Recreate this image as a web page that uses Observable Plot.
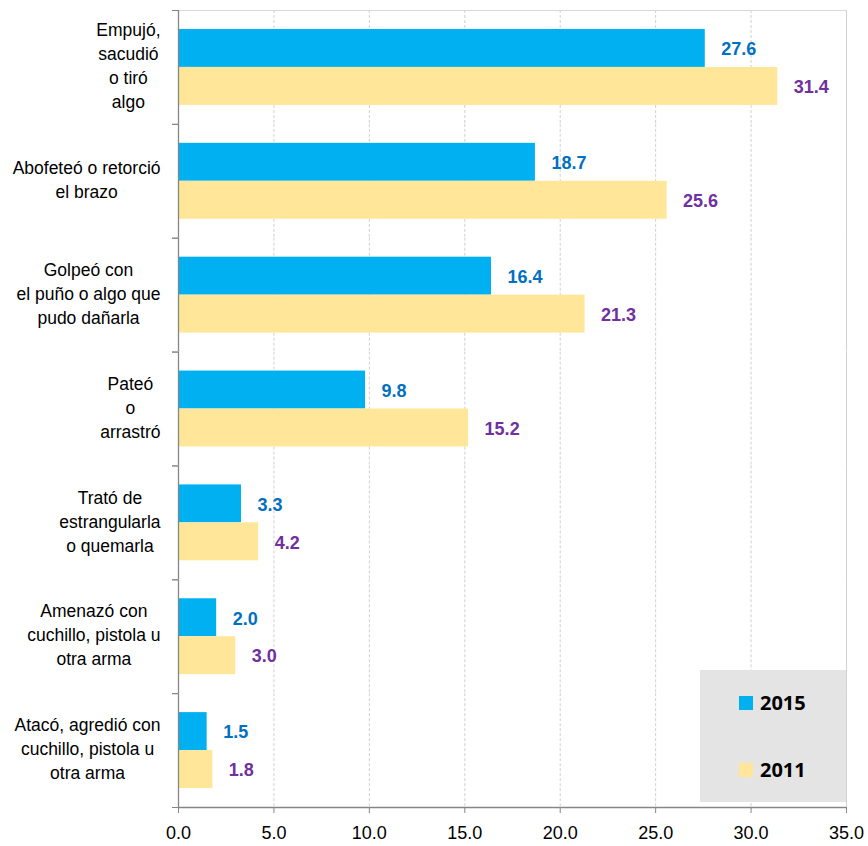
<!DOCTYPE html>
<html>
<head>
<meta charset="utf-8">
<script src="https://cdn.jsdelivr.net/npm/d3@7"></script>
<script src="https://cdn.jsdelivr.net/npm/@observablehq/plot@0.6"></script>
<style>
  html, body { margin: 0; padding: 0; background: #fff; }
  #wrap { position: relative; width: 868px; height: 846px; }
  #legend { position: absolute; left: 700px; top: 670px; width: 146px; height: 132px; background: #e4e4e4; }
  .item { position: absolute; left: 39px; display: flex; align-items: center; font: bold 20px "Open Sans", sans-serif; color: #000; }
  .sw { width: 14px; height: 14px; margin-right: 7px; }
</style>
</head>
<body>
<div id="wrap">
  <div id="legend">
    <div class="item" style="top:19px"><span class="sw" style="background:#00b0f0"></span>2015</div>
    <div class="item" style="top:86px"><span class="sw" style="background:#ffe699"></span>2011</div>
  </div>
</div>
<script>
const categories = [
  "Empujó,\nsacudió\no tiró\nalgo",
  "Abofeteó o retorció\nel brazo",
  "Golpeó con\nel puño o algo que\npudo dañarla",
  "Pateó\no\narrastró",
  "Trató de\nestrangularla\no quemarla",
  "Amenazó con\ncuchillo, pistola u\notra arma",
  "Atacó, agredió con\ncuchillo, pistola u\notra arma"
];
const values2015 = [27.6, 18.7, 16.4, 9.8, 3.3, 2.0, 1.5];
const values2011 = [31.4, 25.6, 21.3, 15.2, 4.2, 3.0, 1.8];
const series = ["2015", "2011"];
const barColors = {"2015": "#00b0f0", "2011": "#ffe699"};
const labelColors = {"2015": "#0070c0", "2011": "#7030a0"};
const xTicks = [0, 5, 10, 15, 20, 25, 30, 35];

const data = categories.flatMap((c, i) => [
  {category: c, series: "2015", value: values2015[i]},
  {category: c, series: "2011", value: values2011[i]}
]);

const W = 868, H = 846, mt = 10, mb = 39, ml = 178, mr = 22;
const band = (H - mt - mb) / categories.length;
const sans = '"Liberation Sans", Arial, sans-serif';
const catFontSize = 17.5;

const ctx = document.createElement("canvas").getContext("2d");
ctx.font = `${catFontSize}px ${sans}`;
const blockWidth = c => Math.max(...c.split("\n").map(l => ctx.measureText(l).width));

const chart = Plot.plot({
  width: W, height: H,
  marginLeft: ml, marginRight: mr, marginTop: mt, marginBottom: mb,
  x: {domain: [0, 35]},
  y: {domain: series, paddingInner: 0, paddingOuter: 0.5, round: false, axis: null},
  fy: {domain: categories, padding: 0, round: false},
  style: {fontFamily: sans, background: "#fff"},
  marks: [
    Plot.ruleX(xTicks.slice(1, -1), {stroke: "#d0d0d0", strokeDasharray: "3,2"}),
    Plot.ruleX([35], {stroke: "#d0d0d0"}),
    Plot.ruleY([categories[0]], {fy: d => d, y: null, dy: -band / 2, stroke: "#d9d9d9"}),
    ...series.map(s => Plot.barX(data.filter(d => d.series === s), {
      fy: "category", y: "series", x: "value", fill: barColors[s]
    })),
    ...series.map(s => Plot.text(data.filter(d => d.series === s), {
      fy: "category", y: "series", x: "value",
      text: d => d.value.toFixed(1), dx: 16, dy: 1, textAnchor: "start",
      fill: labelColors[s], fontWeight: "bold", fontSize: 18, fontFamily: sans
    })),
    Plot.ruleX([0], {stroke: "#868686", strokeWidth: 1.3}),
    Plot.ruleY([categories[categories.length - 1]], {fy: d => d, y: null, dy: band / 2, stroke: "#868686", strokeWidth: 1.3}),
    Plot.axisX({
      anchor: "bottom", ticks: xTicks, tickFormat: d => d.toFixed(1),
      tickSize: 6, tickPadding: 13, stroke: "#868686", fill: "#000",
      fontSize: 18, fontFamily: sans, label: null
    }),
    Plot.axisFy({anchor: "left", tickSize: 6, dy: -band / 2, tickFormat: () => "", stroke: "#868686", label: null}),
    Plot.axisFy([categories[categories.length - 1]], {anchor: "left", tickSize: 6, dy: band / 2, tickFormat: () => "", stroke: "#868686", label: null}),
    ...categories.map(c => Plot.text([c], {
      fy: d => d, text: d => d, frameAnchor: "left",
      dx: -(18 + blockWidth(c) / 2), dy: -3, textAnchor: "middle",
      lineHeight: 24 / catFontSize, fontSize: catFontSize, fontFamily: sans, fill: "#000"
    }))
  ]
});

document.getElementById("wrap").prepend(chart);
chart.style.position = "absolute";
chart.style.left = "0";
chart.style.top = "0";
</script>
</body>
</html>
